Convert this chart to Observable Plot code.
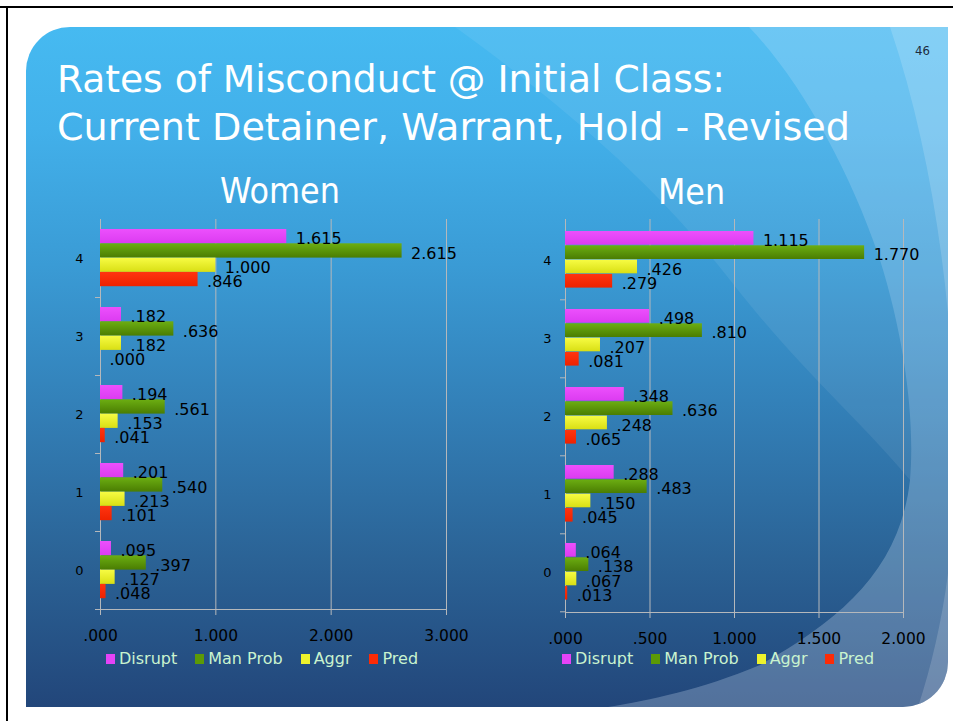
<!DOCTYPE html>
<html>
<head>
<meta charset="utf-8">
<script src="https://cdn.jsdelivr.net/npm/d3@7"></script>
<script src="https://cdn.jsdelivr.net/npm/@observablehq/plot@0.6"></script>
<style>
html, body { margin: 0; padding: 0; background: #fff; }
#page { position: relative; width: 953px; height: 721px; overflow: hidden; font-family: "DejaVu Sans", sans-serif; }
#bg { position: absolute; left: 0; top: 0; }
.chart { position: absolute; }
.legend { position: absolute; display: flex; align-items: center; font-size: 16px; line-height: 16px; color: #c9f3cf; white-space: nowrap; }
.legend .item { display: flex; align-items: center; margin-right: 18px; }
.legend .sw { width: 9px; height: 10px; margin-right: 4px; }
</style>
</head>
<body>
<div id="page">
  <svg id="bg" width="953" height="721" xmlns="http://www.w3.org/2000/svg">
    <defs>
      <linearGradient id="bgGrad" x1="0" y1="27" x2="0" y2="707" gradientUnits="userSpaceOnUse">
        <stop offset="0" stop-color="#46baf1"/>
        <stop offset="0.15" stop-color="#42b0ea"/>
        <stop offset="0.35" stop-color="#3a9bd5"/>
        <stop offset="0.55" stop-color="#3381b9"/>
        <stop offset="0.78" stop-color="#2b6396"/>
        <stop offset="1" stop-color="#22467a"/>
      </linearGradient>
      <clipPath id="panelClip">
        <path d="M26,71 A44,44 0 0 1 70,27 L948,27 L948,662 A45,45 0 0 1 903,707 L26,707 Z"/>
      </clipPath>
    </defs>
    <line x1="0" y1="7" x2="953" y2="7" stroke="#000" stroke-width="2"/>
    <line x1="7" y1="6" x2="7" y2="721" stroke="#000" stroke-width="2"/>
    <path d="M26,71 A44,44 0 0 1 70,27 L948,27 L948,662 A45,45 0 0 1 903,707 L26,707 Z" fill="url(#bgGrad)"/>
    <g clip-path="url(#panelClip)">
      <path d="M455,27 C570,110 660,190 730,280 C800,370 860,420 910,480 C900,570 840,620 760,665 C700,690 650,700 608,707 L960,707 L960,27 Z" fill="#ffffff" fill-opacity="0.07"/>
      <path d="M749,27 C800,80 850,170 880,260 C905,340 915,420 910,480 C900,570 840,620 760,665 C700,690 650,700 608,707 L960,707 L960,27 Z" fill="#d8ecff" fill-opacity="0.2"/>
      <path d="M890,27 C935,160 955,320 955,460 C955,560 940,640 918,707 L960,707 L960,27 Z" fill="#ffffff" fill-opacity="0.16"/>
    </g>
    <text x="57" y="92" font-family="DejaVu Sans Condensed" font-size="37" fill="#fff" textLength="668" lengthAdjust="spacingAndGlyphs">Rates of Misconduct @ Initial Class:</text>
    <text x="57" y="140" font-family="DejaVu Sans Condensed" font-size="37" fill="#fff" textLength="793" lengthAdjust="spacingAndGlyphs">Current Detainer, Warrant, Hold - Revised</text>
    <text x="220" y="203" font-family="DejaVu Sans Condensed" font-size="36" fill="#fff" textLength="120" lengthAdjust="spacingAndGlyphs">Women</text>
    <text x="658" y="204" font-family="DejaVu Sans Condensed" font-size="36" fill="#fff" textLength="67" lengthAdjust="spacingAndGlyphs">Men</text>
    <text x="915" y="55" font-family="DejaVu Sans Condensed" font-size="13" fill="#1d2b3b">46</text>
  </svg>
  <div id="women" class="chart" style="left:0px;top:200px;width:480px"></div>
  <div id="men" class="chart" style="left:465px;top:200px;width:488px"></div>
  <div id="legW" class="legend" style="left:106px;top:651px"></div>
  <div id="legM" class="legend" style="left:562px;top:651px"></div>
</div>
<script>
// ---- data ----
const categories = [4, 3, 2, 1, 0];
const seriesNames = ["Disrupt", "Man Prob", "Aggr", "Pred"];
const seriesColors = ["#e443f7", "#5c9a06", "#eef22c", "#fc2b06"];
const womenDisrupt = [1.615, 0.182, 0.194, 0.201, 0.095];
const womenManProb = [2.615, 0.636, 0.561, 0.540, 0.397];
const womenAggr    = [1.000, 0.182, 0.153, 0.213, 0.127];
const womenPred    = [0.846, 0.000, 0.041, 0.101, 0.048];
const menDisrupt = [1.115, 0.498, 0.348, 0.288, 0.064];
const menManProb = [1.770, 0.810, 0.636, 0.483, 0.138];
const menAggr    = [0.426, 0.207, 0.248, 0.150, 0.067];
const menPred    = [0.279, 0.081, 0.065, 0.045, 0.013];
const womenTicks = [0, 1, 2, 3];
const womenTickLabels = [".000", "1.000", "2.000", "3.000"];
const menTicks = [0, 0.5, 1, 1.5, 2];
const menTickLabels = [".000", ".500", "1.000", "1.500", "2.000"];

const gradStops = [
  ["#ec50fc", "#dc3bf1"],
  ["#6cae12", "#4a7d02"],
  ["#f7fc44", "#d9df14"],
  ["#ff3410", "#ee2200"]
];

const fmt = v => d3.format(".3f")(v).replace(/^0\./, ".");

function makeChart(opts) {
  const {values, ticks, tickLabels, domainMax, width, height, marginLeft, marginRight, marginTop, marginBottom, yLabelPad, prefix} = opts;
  const rows = [];
  categories.forEach((c, i) => seriesNames.forEach((s, j) => rows.push({cat: c, series: s, value: values[j][i]})));
  const bw = (height - marginTop - marginBottom) / categories.length;
  const groupTop = 10, barH = 14.3;
  const gridColor = "#b5b8bb";

  const defsMark = () => {
    const g = document.createElementNS("http://www.w3.org/2000/svg", "g");
    g.innerHTML = "<defs>" + gradStops.map((st, j) =>
      `<linearGradient id="${prefix}g${j}" x1="0" y1="0" x2="0" y2="1"><stop offset="0" stop-color="${st[0]}"/><stop offset="1" stop-color="${st[1]}"/></linearGradient>`
    ).join("") + "</defs>";
    return g;
  };

  const marks = [
    defsMark,
    Plot.ruleX(ticks, {stroke: gridColor, strokeWidth: 1}),
    Plot.frame({anchor: "bottom", stroke: gridColor}),
    Plot.axisX(ticks, {anchor: "bottom", tickSize: 6, tickPadding: 14, stroke: gridColor, fill: "black", fontSize: 15.5, label: null,
      tickFormat: d => tickLabels[ticks.indexOf(d)]}),
    Plot.axisY({anchor: "left", tickSize: 5, tickFormat: () => "", dy: bw / 2, stroke: gridColor, label: null}),
    Plot.axisY({anchor: "left", tickSize: 0, tickPadding: yLabelPad, fontSize: 13, fill: "black", label: null})
  ];
  seriesNames.forEach((s, j) => {
    marks.push(Plot.barX(rows.filter(d => d.series === s), {
      x: "value", y: "cat", fill: `url(#${prefix}g${j})`,
      insetTop: groupTop + j * barH, insetBottom: bw - groupTop - (j + 1) * barH
    }));
  });
  seriesNames.forEach((s, j) => {
    marks.push(Plot.text(rows.filter(d => d.series === s), {
      x: "value", y: "cat", text: d => fmt(d.value), textAnchor: "start",
      dx: 9, dy: groupTop + (j + 0.5) * barH - bw / 2 + 2.5, fontSize: 16, fill: "black"
    }));
  });

  return Plot.plot({
    width, height, marginLeft, marginRight, marginTop, marginBottom,
    style: {background: "transparent", fontFamily: "DejaVu Sans", color: "black", overflow: "visible"},
    x: {domain: [0, domainMax], label: null},
    y: {domain: categories, padding: 0, label: null},
    marks
  });
}

document.getElementById("women").append(makeChart({
  values: [womenDisrupt, womenManProb, womenAggr, womenPred],
  ticks: womenTicks, tickLabels: womenTickLabels, domainMax: 3,
  width: 480, height: 449, marginLeft: 100, marginRight: 34, marginTop: 19, marginBottom: 40,
  yLabelPad: 17, prefix: "w"
}));
document.getElementById("men").append(makeChart({
  values: [menDisrupt, menManProb, menAggr, menPred],
  ticks: menTicks, tickLabels: menTickLabels, domainMax: 2,
  width: 488, height: 452, marginLeft: 100, marginRight: 50, marginTop: 19, marginBottom: 40,
  yLabelPad: 14, prefix: "m"
}));

function legend(id) {
  const el = document.getElementById(id);
  seriesNames.forEach((s, j) => {
    const item = document.createElement("div");
    item.className = "item";
    const sw = document.createElement("div");
    sw.className = "sw";
    sw.style.background = seriesColors[j];
    const t = document.createElement("span");
    t.textContent = s;
    item.append(sw, t);
    el.append(item);
  });
}
legend("legW");
legend("legM");
</script>
</body>
</html>
